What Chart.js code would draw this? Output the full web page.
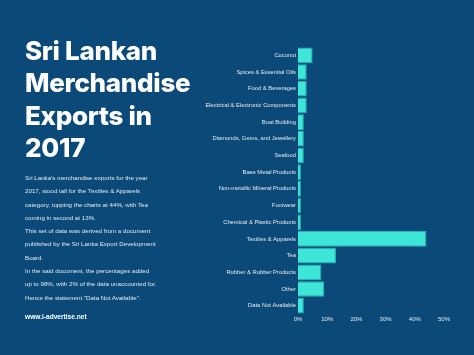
<!DOCTYPE html>
<html><head><meta charset="utf-8">
<script src="https://cdn.jsdelivr.net/npm/chart.js@4.4.0/dist/chart.umd.min.js"></script>
<style>
html,body{margin:0;padding:0;background:#0b4a78;width:474px;height:355px;overflow:hidden;}
#wrap{position:relative;width:474px;height:355px;}
#c{position:absolute;left:0;top:0;}
#title{position:absolute;left:25px;top:35px;color:#fff;font-family:Inter,sans-serif;font-weight:800;font-size:26px;line-height:32.3px;letter-spacing:-0.3px;}
#body{position:absolute;left:25px;top:171px;color:#e3eaf0;font-family:"Liberation Sans",Arial,sans-serif;font-size:6.2px;line-height:13.3px;}
#url{position:absolute;left:25px;top:313px;color:#fff;font-family:"Liberation Sans",Arial,sans-serif;font-weight:700;font-size:6.6px;}
</style></head>
<body><div id="wrap">
<canvas id="c" width="474" height="355"></canvas>
<div id="title">Sri Lankan<br>Merchandise<br>Exports in<br>2017</div>
<div id="body">Sri Lanka's merchandise exports for the year<br>2017, stood tall for the Textiles &amp; Apparels<br>category, topping the charts at 44%, with Tea<br>coming in second at 13%.<br>This set of data was derived from a document<br>published by the Sri Lanka Export Development<br>Board.<br>In the said document, the percentages added<br>up to 98%, with 2% of the data unaccounted for.<br>Hence the statement "Data Not Available".</div>
<div id="url">www.i-advertise.net</div>
</div>
<script>
const categories = ["Coconut","Spices & Essential Oils","Food & Beverages","Electrical & Electronic Components","Boat Building","Diamonds, Gems, and Jewellery","Seafood","Base Metal Products","Non-metallic Mineral Products","Footwear","Chemical & Plastic Products","Textiles & Apparels","Tea","Rubber & Rubber Products","Other","Data Not Available"];
const shares = [5,3,3,3,2,2,2,1,1,1,1,44,13,8,9,2];
const xTicks = [0,10,20,30,40,50];

new Chart(document.getElementById('c'), {
  type: 'bar',
  data: { labels: categories, datasets: [{ data: shares, backgroundColor: '#3de6d6', borderColor: '#2ab3b3', borderWidth: 1, barPercentage: 0.94, categoryPercentage: 1 }] },
  options: {
    indexAxis: 'y', responsive: false, animation: false,
    layout: { padding: { left: 0, top: 47, right: 30, bottom: 0 } },
    plugins: { legend: { display: false }, tooltip: { enabled: false } },
    scales: {
      x: {
        min: 0, max: 50,
        afterBuildTicks: s => { s.ticks = xTicks.map(v => ({ value: v })); },
        afterFit: s => { s.height = 41; },
        grid: { display: false, drawTicks: false }, border: { display: false },
        ticks: { padding: 2, color: '#e3eaf0', font: { family: 'Liberation Sans', size: 6 }, callback: v => v + '%' }
      },
      y: {
        afterFit: s => { s.width = 298; },
        grid: { display: false, drawTicks: false }, border: { display: false },
        ticks: { padding: 2, color: '#e3eaf0', font: { family: 'Liberation Sans', size: 5.8 }, autoSkip: false }
      }
    }
  }
});
</script>
</body></html>
